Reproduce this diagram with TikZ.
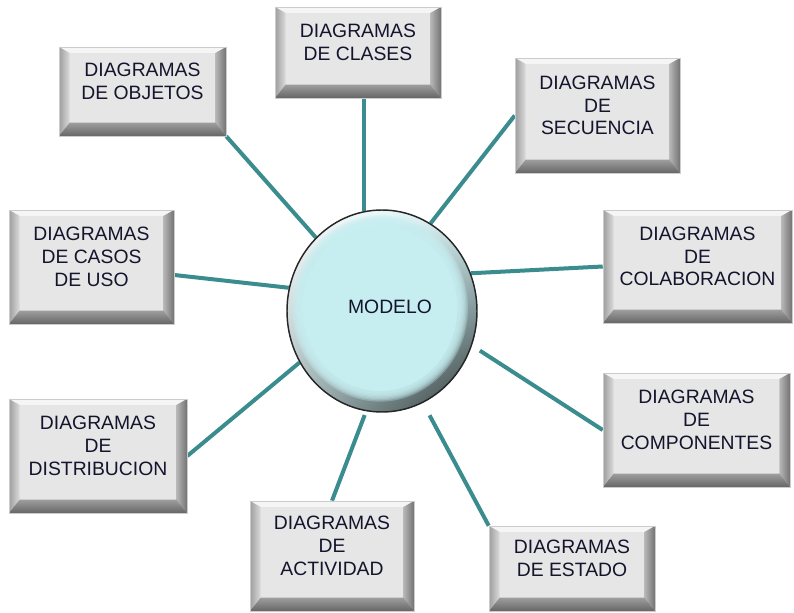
\documentclass[tikz,border=0pt]{standalone}
\usepackage{fontspec}
\setmainfont{Liberation Sans}
\usepackage{xcolor}
\usepackage{tikz}
\usetikzlibrary{shapes.geometric, backgrounds, shadings}

\definecolor{lineteal}{RGB}{58,140,143}
\definecolor{boxface}{RGB}{230,230,230}
\definecolor{bevtop}{RGB}{245,245,245}
\definecolor{modface}{RGB}{198,238,241}
\definecolor{txtdark}{RGB}{20,20,45}

\tikzset{
  diagbox/.style={rectangle, inner sep=0pt, fill=boxface, draw=gray!40, line width=0.4pt,
    path picture={
      \coordinate (pa) at (path picture bounding box.north west);
      \coordinate (pb) at (path picture bounding box.north east);
      \coordinate (pc) at (path picture bounding box.south east);
      \coordinate (pd) at (path picture bounding box.south west);
      \coordinate (qa) at ([shift={(8pt,-4.5pt)}]pa);
      \coordinate (qb) at ([shift={(-8pt,-4.5pt)}]pb);
      \coordinate (qc) at ([shift={(-8pt,10pt)}]pc);
      \coordinate (qd) at ([shift={(8pt,10pt)}]pd);
      \fill[bevtop] (pa) -- (pb) -- (qb) -- (qa) -- cycle;
      \shade[left color=black!38, right color=black!14] (pa) -- (qa) -- (qd) -- (pd) -- cycle;
      \shade[left color=black!28, right color=black!55] (pb) -- (pc) -- (qc) -- (qb) -- cycle;
      \shade[top color=black!38, bottom color=black!60] (pd) -- (qd) -- (qc) -- (pc) -- cycle;
    }},
  boxtext/.style={align=center, text=txtdark, font=\fontsize{14.5}{17}\selectfont,
    inner sep=0pt, yshift=7.5pt},
  modelo/.style={ellipse, minimum width=142.5pt, minimum height=151.5pt, inner sep=0pt,
    draw=black!85, line width=1.1pt,
    path picture={
      \shade[upper left=white, upper right=modface!80!white, lower left=modface!55!gray,
        lower right=modface!25!black]
        (path picture bounding box.south west) rectangle (path picture bounding box.north east);
      \foreach \i in {0,...,6}
        \fill[modface, opacity=0.3] ([shift={(-1.5pt,2pt)}]path picture bounding box.center)
          ellipse [x radius={66pt-\i*1pt}, y radius={70pt-\i*1pt}];
      \fill[modface] ([shift={(-1.5pt,2pt)}]path picture bounding box.center)
          ellipse [x radius=58pt, y radius=62pt];
    }},
  link/.style={draw=lineteal, line width=3pt},
}

\begin{document}
\begin{tikzpicture}[x=0.75pt, y=-0.75pt]
  \useasboundingbox (0,0) rectangle (794,613);

  % centro
  \node[modelo, label={[boxtext, yshift=-4.5pt, xshift=6pt]center:MODELO}] (modelo) at (382,311) {};

  % cajas de diagramas
  \node[diagbox, minimum width=124.5pt, minimum height=68.25pt,
    label={[boxtext]center:{DIAGRAMAS\\DE CLASES}}] (clases) at (358,52.5) {};
  \node[diagbox, minimum width=125.25pt, minimum height=66.75pt,
    label={[boxtext]center:{DIAGRAMAS\\DE OBJETOS}}] (objetos) at (142.5,91.5) {};
  \node[diagbox, minimum width=123.75pt, minimum height=86.25pt,
    label={[boxtext]center:{DIAGRAMAS\\DE\\SECUENCIA}}] (secuencia) at (597.5,115.5) {};
  \node[diagbox, minimum width=141.75pt, minimum height=84.75pt,
    label={[boxtext]center:{DIAGRAMAS\\DE\\COLABORACION}}] (colaboracion) at (697.5,266.5) {};
  \node[diagbox, minimum width=140.25pt, minimum height=85.5pt,
    label={[boxtext]center:{DIAGRAMAS\\DE\\COMPONENTES}}] (componentes) at (696.5,430) {};
  \node[diagbox, minimum width=124.5pt, minimum height=63.75pt,
    label={[boxtext]center:{DIAGRAMAS\\DE ESTADO}}] (estado) at (572,568.5) {};
  \node[diagbox, minimum width=123pt, minimum height=82.5pt,
    label={[boxtext]center:{DIAGRAMAS\\DE\\ACTIVIDAD}}] (actividad) at (332,556) {};
  \node[diagbox, minimum width=133.5pt, minimum height=85.5pt,
    label={[boxtext]center:{DIAGRAMAS\\DE\\DISTRIBUCION}}] (distribucion) at (98,456) {};
  \node[diagbox, minimum width=123.75pt, minimum height=85.5pt,
    label={[boxtext]center:{DIAGRAMAS\\DE CASOS\\DE USO}}] (casos) at (91.5,267) {};

  % conectores
  \begin{scope}[on background layer]
    \draw[link] (modelo.100) -- (modelo.100 |- clases.south);
    \draw[link] (objetos.south east) -- (modelo.132);
    \draw[link] (secuencia.west) -- (modelo.61);
    \draw[link] (colaboracion.west) -- (modelo.23);
    \draw[link, shorten >=7pt] (componentes.west) -- (modelo.339);
    \draw[link, shorten >=10.5pt] (estado.north west) -- (modelo.294.5);
    \draw[link, shorten >=3pt] (actividad.north) -- (modelo.261);
    \draw[link] (distribucion.east) -- (modelo.212);
    \draw[link] ([yshift=-6pt]casos.east) -- (modelo.166);
  \end{scope}
\end{tikzpicture}
\end{document}
